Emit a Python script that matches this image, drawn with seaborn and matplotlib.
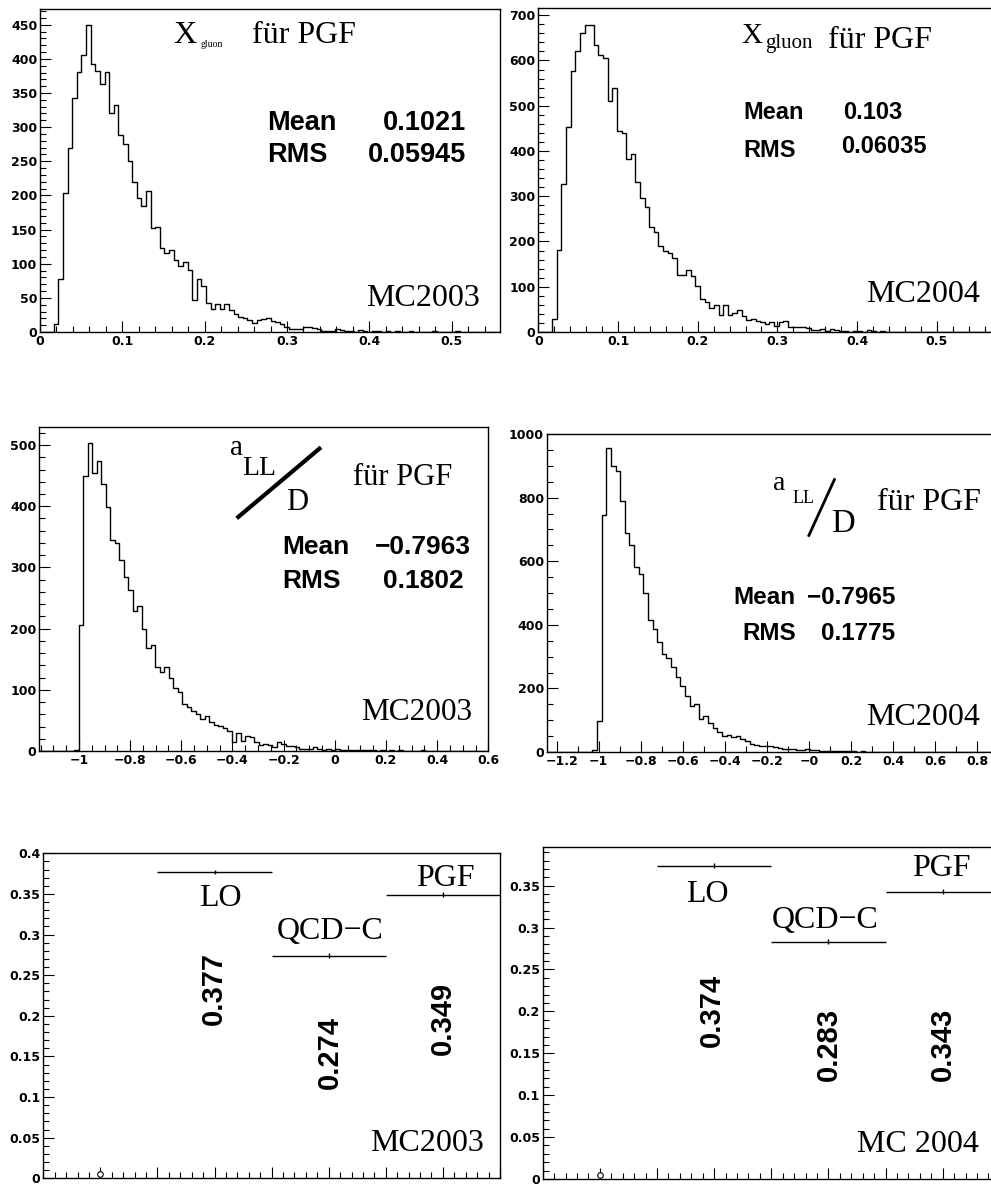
import numpy as np
import pandas as pd
import seaborn as sns
import matplotlib
matplotlib.use("Agg")
import matplotlib.pyplot as plt
from matplotlib.lines import Line2D
from matplotlib.ticker import FixedLocator, MultipleLocator
from matplotlib.transforms import ScaledTranslation

# ---------------- data ----------------
# x_gluon for PGF, MC2003 (100 bins, 0 .. 0.56)
xg03_range = (0.0, 0.56)
xg03_counts = [0, 0, 0, 11, 78, 203, 270, 342, 381, 405,
               450, 393, 382, 363, 381, 320, 332, 289, 276, 250,
               219, 196, 184, 207, 153, 154, 123, 115, 120, 105,
               96, 102, 91, 47, 78, 67, 42, 33, 41, 33,
               41, 32, 26, 22, 21, 17, 13, 18, 19, 20,
               16, 14, 11, 8, 5, 4, 5, 8, 7, 6,
               4, 2, 1, 1, 4, 3, 2, 1, 0, 3,
               1, 0, 1, 1, 0, 1, 0, 1, 0, 0,
               1, 0, 0, 0, 0, 1, 0, 0, 0, 0,
               1, 0, 0, 0, 0, 0, 0, 0, 0, 0]
# x_gluon for PGF, MC2004 (100 bins, 0 .. 0.58)
xg04_range = (0.0, 0.58)
xg04_counts = [0, 0, 0, 28, 181, 327, 454, 577, 620, 660,
               679, 678, 634, 612, 606, 510, 539, 445, 440, 382,
               393, 332, 297, 276, 231, 220, 189, 180, 175, 164,
               125, 127, 136, 123, 101, 74, 66, 53, 60, 38,
               60, 37, 42, 48, 36, 27, 29, 24, 23, 18,
               21, 13, 23, 24, 10, 10, 11, 11, 9, 5,
               4, 7, 3, 7, 5, 2, 2, 1, 3, 2,
               1, 4, 2, 1, 2, 1, 1, 0, 1, 1,
               0, 1, 0, 0, 1, 0, 0, 0, 1, 0,
               0, 0, 0, 0, 0, 0, 0, 0, 0, 0]
# a_LL/D for PGF, MC2003 (100 bins, -1.16 .. 0.6)
a03_range = (-1.16, 0.6)
a03_counts = [0, 0, 0, 0, 0, 0, 0, 0, 2, 206,
              449, 504, 454, 474, 436, 398, 345, 340, 312, 285,
              263, 229, 237, 199, 169, 173, 137, 129, 137, 120,
              103, 96, 77, 72, 66, 60, 53, 58, 48, 43,
              41, 37, 32, 15, 30, 16, 25, 23, 15, 10,
              12, 10, 7, 14, 11, 8, 8, 7, 4, 4,
              3, 6, 4, 2, 3, 2, 3, 2, 1, 2,
              2, 1, 1, 1, 1, 0, 1, 0, 1, 0,
              1, 0, 0, 0, 0, 1, 0, 0, 0, 0,
              0, 0, 0, 0, 0, 0, 0, 0, 0, 0]
# a_LL/D for PGF, MC2004 (100 bins, -1.25 .. 0.95)
a04_range = (-1.25, 0.95)
a04_counts = [0, 0, 0, 0, 0, 0, 0, 0, 0, 0,
              7, 98, 744, 956, 898, 883, 789, 689, 652, 582,
              559, 500, 414, 387, 346, 308, 297, 267, 235, 206,
              176, 146, 151, 104, 113, 92, 74, 63, 49, 52,
              47, 49, 42, 34, 24, 21, 20, 20, 18, 16,
              13, 10, 10, 8, 7, 6, 8, 5, 5, 4,
              3, 4, 3, 2, 3, 2, 2, 1, 2, 1,
              1, 1, 0, 1, 0, 1, 0, 0, 1, 0,
              0, 0, 0, 0, 0, 0, 0, 0, 0, 0,
              0, 0, 0, 0, 0, 0, 0, 0, 0, 0]

# process fractions (bottom row)
proc_pos = [1, 2, 3, 4]
proc_names = ["", "LO", "QCD\u2212C", "PGF"]
frac03 = [0.005, 0.377, 0.274, 0.349]
frac04 = [0.005, 0.374, 0.283, 0.343]
frac03_labels = ["", "0.377", "0.274", "0.349"]
frac04_labels = ["", "0.374", "0.283", "0.343"]

# statistics boxes
stats_xg03 = ("0.1021", "0.05945")
stats_xg04 = ("0.103", "0.06035")
stats_a03 = ("\u22120.7963", "0.1802")
stats_a04 = ("\u22120.7965", "0.1775")

# tick labels
xg_xticks = [0, 0.1, 0.2, 0.3, 0.4, 0.5]
xg_xticklabels = ["0", "0.1", "0.2", "0.3", "0.4", "0.5"]
xg03_yticks = [0, 50, 100, 150, 200, 250, 300, 350, 400, 450]
xg03_yticklabels = ["0", "50", "100", "150", "200", "250", "300", "350", "400", "450"]
xg04_yticks = [0, 100, 200, 300, 400, 500, 600, 700]
xg04_yticklabels = ["0", "100", "200", "300", "400", "500", "600", "700"]
a03_xticks = [-1, -0.8, -0.6, -0.4, -0.2, 0, 0.2, 0.4, 0.6]
a03_xticklabels = ["\u22121", "\u22120.8", "\u22120.6", "\u22120.4", "\u22120.2", "0", "0.2", "0.4", "0.6"]
a03_yticks = [0, 100, 200, 300, 400, 500]
a03_yticklabels = ["0", "100", "200", "300", "400", "500"]
a04_xticks = [-1.2, -1, -0.8, -0.6, -0.4, -0.2, 0, 0.2, 0.4, 0.6, 0.8]
a04_xticklabels = ["\u22121.2", "\u22121", "\u22120.8", "\u22120.6", "\u22120.4", "\u22120.2",
                   "\u22120", "0.2", "0.4", "0.6", "0.8"]
a04_yticks = [0, 200, 400, 600, 800, 1000]
a04_yticklabels = ["0", "200", "400", "600", "800", "1000"]
f03_yticks = [0, 0.05, 0.1, 0.15, 0.2, 0.25, 0.3, 0.35, 0.4]
f03_yticklabels = ["0", "0.05", "0.1", "0.15", "0.2", "0.25", "0.3", "0.35", "0.4"]
f04_yticks = [0, 0.05, 0.1, 0.15, 0.2, 0.25, 0.3, 0.35]
f04_yticklabels = ["0", "0.05", "0.1", "0.15", "0.2", "0.25", "0.3", "0.35"]

# ---------------- style ----------------
sns.set_style("ticks")
plt.rcParams["font.family"] = ["Liberation Sans", "DejaVu Sans"]
plt.rcParams["text.color"] = "black"
plt.rcParams["xtick.color"] = "black"
plt.rcParams["ytick.color"] = "black"
plt.rcParams["axes.edgecolor"] = "black"
SERIF = ["Liberation Serif", "DejaVu Serif"]
SANS = ["Liberation Sans", "DejaVu Sans"]
TICKFONT = ["DejaVu Sans"]
TICKSIZE = 9.0

W, H = 991, 1185
fig = plt.figure(figsize=(W / 100, H / 100), dpi=100)
fig.patch.set_facecolor("white")


def add_ax(l, t, r, b, cut_right=False):
    ax = fig.add_axes([l / W, 1 - b / H, (r - l) / W, (b - t) / H])
    ax.set_facecolor("white")
    for s in ax.spines.values():
        s.set_linewidth(1.0)
        s.set_color("black")
        s.set_visible(True)
    if cut_right:
        ax.spines["right"].set_visible(False)
    ax.tick_params(which="both", direction="in", color="black", labelcolor="black",
                   width=0.8, top=False, right=False, pad=2)
    ax.tick_params(which="major", length=8)
    ax.tick_params(which="minor", length=4)
    return ax


def set_ticks(ax, xt, xl, yt, yl, xminor, yminor):
    ax.xaxis.set_major_locator(FixedLocator(xt))
    ax.set_xticklabels(xl, fontsize=TICKSIZE, fontweight="bold", family=TICKFONT)
    ax.yaxis.set_major_locator(FixedLocator(yt))
    ax.set_yticklabels(yl, fontsize=TICKSIZE, fontweight="bold", family=TICKFONT)
    ax.xaxis.set_minor_locator(MultipleLocator(xminor))
    ax.yaxis.set_minor_locator(MultipleLocator(yminor))


def draw_hist(ax, counts, rng):
    n = len(counts)
    edges = np.linspace(rng[0], rng[1], n + 1)
    centers = 0.5 * (edges[:-1] + edges[1:])
    df = pd.DataFrame({"x": centers, "w": np.asarray(counts, dtype=float)})
    sns.histplot(data=df, x="x", weights="w", bins=n, binrange=rng,
                 element="step", fill=False, color="black", linewidth=1.0, ax=ax)
    ax.set_xlabel("")
    ax.set_ylabel("")


def ftext(x, y, s, size, fam=SERIF, weight="normal", ha="left", va="baseline"):
    fig.text(x / W, 1 - y / H, s, fontsize=size, family=fam, fontweight=weight,
             ha=ha, va=va, color="black")


def fline(x0, y0, x1, y1, lw):
    fig.add_artist(Line2D([x0 / W, x1 / W], [1 - y0 / H, 1 - y1 / H],
                          transform=fig.transFigure, color="black", lw=lw,
                          solid_capstyle="butt"))


# ---------------- top-left: x_gluon MC2003 ----------------
ax1 = add_ax(40, 9, 500, 332)
draw_hist(ax1, xg03_counts, xg03_range)
ax1.set_xlim(0, 0.5587)
ax1.set_ylim(0, 473)
set_ticks(ax1, xg_xticks, xg_xticklabels, xg03_yticks, xg03_yticklabels, 0.02, 10)
ftext(173, 42.7, "X", 23)
ftext(201, 46.7, "gluon", 7)
ftext(252, 42.7, "f\u00fcr PGF", 23)
ftext(266.7, 130, "Mean", 19.5, SANS, "bold")
ftext(466, 130, stats_xg03[0], 19.5, SANS, "bold", ha="right")
ftext(266.7, 161.7, "RMS", 19.5, SANS, "bold")
ftext(466, 161.7, stats_xg03[1], 19.5, SANS, "bold", ha="right")
ftext(480, 306, "MC2003", 23, ha="right")

# ---------------- top-right: x_gluon MC2004 ----------------
ax2 = add_ax(538.3, 8, 991, 332, cut_right=True)
draw_hist(ax2, xg04_counts, xg04_range)
ax2.set_xlim(0, (991 - 538.3) / 797.0)
ax2.set_ylim(0, 716)
set_ticks(ax2, xg_xticks, xg_xticklabels, xg04_yticks, xg04_yticklabels, 0.02, 20)
ftext(741.7, 43.3, "X", 21)
ftext(765, 48.3, "gluon", 15)
ftext(828, 48.3, "f\u00fcr PGF", 23)
ftext(743, 119, "Mean", 17, SANS, "bold")
ftext(842.7, 119, stats_xg04[0], 17, SANS, "bold")
ftext(743, 157, "RMS", 17, SANS, "bold")
ftext(840.7, 153.3, stats_xg04[1], 17, SANS, "bold")
ftext(980, 301.7, "MC2004", 23, ha="right")

# ---------------- mid-left: a_LL/D MC2003 ----------------
ax3 = add_ax(39.3, 427.3, 488.3, 751)
draw_hist(ax3, a03_counts, a03_range)
ax3.set_xlim(-1.155, 0.6)
ax3.set_ylim(0, 529)
set_ticks(ax3, a03_xticks, a03_xticklabels, a03_yticks, a03_yticklabels, 0.05, 20)
ftext(230, 455, "a", 21)
ftext(242.7, 475, "LL", 20)
ftext(286, 510, "D", 22)
fline(236.7, 518.3, 321, 447.3, 3.0)
ftext(352.7, 485, "f\u00fcr PGF", 22)
ftext(282.7, 554.3, "Mean", 19, SANS, "bold")
ftext(423, 554.3, stats_a03[0], 19, SANS, "bold", ha="center")
ftext(282.7, 588.3, "RMS", 19, SANS, "bold")
ftext(423, 588.3, stats_a03[1], 19, SANS, "bold", ha="center")
ftext(472.7, 720, "MC2003", 22.5, ha="right")

# ---------------- mid-right: a_LL/D MC2004 ----------------
ax4 = add_ax(546.7, 434, 991, 752, cut_right=True)
draw_hist(ax4, a04_counts, a04_range)
ax4.set_xlim(-1.2475, 0.8 + (991 - 977.3) / 210.3)
ax4.set_ylim(0, 1000)
set_ticks(ax4, a04_xticks, a04_xticklabels, a04_yticks, a04_yticklabels, 0.1, 50)
# nudge the first x label right so it clears the y-axis "0"
first_lab = ax4.xaxis.get_major_ticks()[0].label1
first_lab.set_transform(first_lab.get_transform()
                        + ScaledTranslation(5 / 100, 0, fig.dpi_scale_trans))
ftext(773, 490, "a", 20)
ftext(793, 503.3, "LL", 13)
ftext(831.7, 531.7, "D", 23.5)
fline(808.3, 536.7, 835, 478.3, 2.0)
ftext(876.7, 510, "f\u00fcr PGF", 23)
ftext(733.3, 604.3, "Mean", 17.5, SANS, "bold")
ftext(806.7, 604.3, stats_a04[0], 17.5, SANS, "bold")
ftext(742.7, 640, "RMS", 17.5, SANS, "bold")
ftext(821, 640, stats_a04[1], 17.5, SANS, "bold")
ftext(980, 725, "MC2004", 23, ha="right")


# ---------------- bottom row: process fractions ----------------
def draw_frac(ax, vals, labels, name_pos, num_pos, mc_text, mc_pos):
    df = pd.DataFrame({"pos": proc_pos, "frac": vals})
    hist_part = df.iloc[1:]
    ax.errorbar(hist_part["pos"], hist_part["frac"], xerr=0.5, yerr=0.003,
                fmt="none", ecolor="black", elinewidth=1.0, capsize=0)
    first = df.iloc[:1]
    ax.errorbar(first["pos"], first["frac"], yerr=0.003, fmt="o", ms=4,
                mfc="white", mec="black", mew=0.8, ecolor="black",
                elinewidth=0.8, capsize=0)
    for i in range(1, 4):
        ax.text(name_pos[i][0], name_pos[i][1], proc_names[i], fontsize=23,
                family=SERIF, ha="center", va="baseline", color="black")
        ax.text(num_pos[i][0], num_pos[i][1], labels[i], fontsize=21,
                family=SANS, fontweight="bold", rotation=90,
                ha="center", va="center", color="black")
    ax.text(mc_pos[0], mc_pos[1], mc_text, fontsize=23, family=SERIF,
            ha="right", va="baseline", color="black")


ax5 = add_ax(43.3, 853.3, 500, 1178.3)
ax5.set_xlim(0.5, 4.5)
ax5.set_ylim(0, 0.4)
draw_frac(ax5, frac03, frac03_labels,
          [None, (2.05, 0.335), (3.01, 0.294), (4.02, 0.36)],
          [None, (1.99, 0.233), (3.01, 0.155), (4.0, 0.197)],
          "MC2003", (4.36, 0.033))
ax5.xaxis.set_major_locator(MultipleLocator(0.5))
ax5.xaxis.set_minor_locator(MultipleLocator(0.1))
ax5.set_xticklabels([])
ax5.yaxis.set_major_locator(FixedLocator(f03_yticks))
ax5.set_yticklabels(f03_yticklabels, fontsize=TICKSIZE, fontweight="bold", family=TICKFONT)
ax5.yaxis.set_minor_locator(MultipleLocator(0.01))

ax6 = add_ax(542.7, 846.7, 991, 1179, cut_right=True)
ax6.set_xlim(0.5, 0.5 + 448.3 / 114.3)
ax6.set_ylim(0, 0.3965)
draw_frac(ax6, frac04, frac04_labels,
          [None, (1.94, 0.330), (2.97, 0.300), (3.99, 0.361)],
          [None, (1.98, 0.2017), (3.0, 0.161), (4.0, 0.161)],
          "MC 2004", (4.32, 0.0326))
ax6.xaxis.set_major_locator(MultipleLocator(0.5))
ax6.xaxis.set_minor_locator(MultipleLocator(0.1))
ax6.set_xticklabels([])
ax6.yaxis.set_major_locator(FixedLocator(f04_yticks))
ax6.set_yticklabels(f04_yticklabels, fontsize=TICKSIZE, fontweight="bold", family=TICKFONT)
ax6.yaxis.set_minor_locator(MultipleLocator(0.01))

fig.savefig("out.png", dpi=100, facecolor="white")
